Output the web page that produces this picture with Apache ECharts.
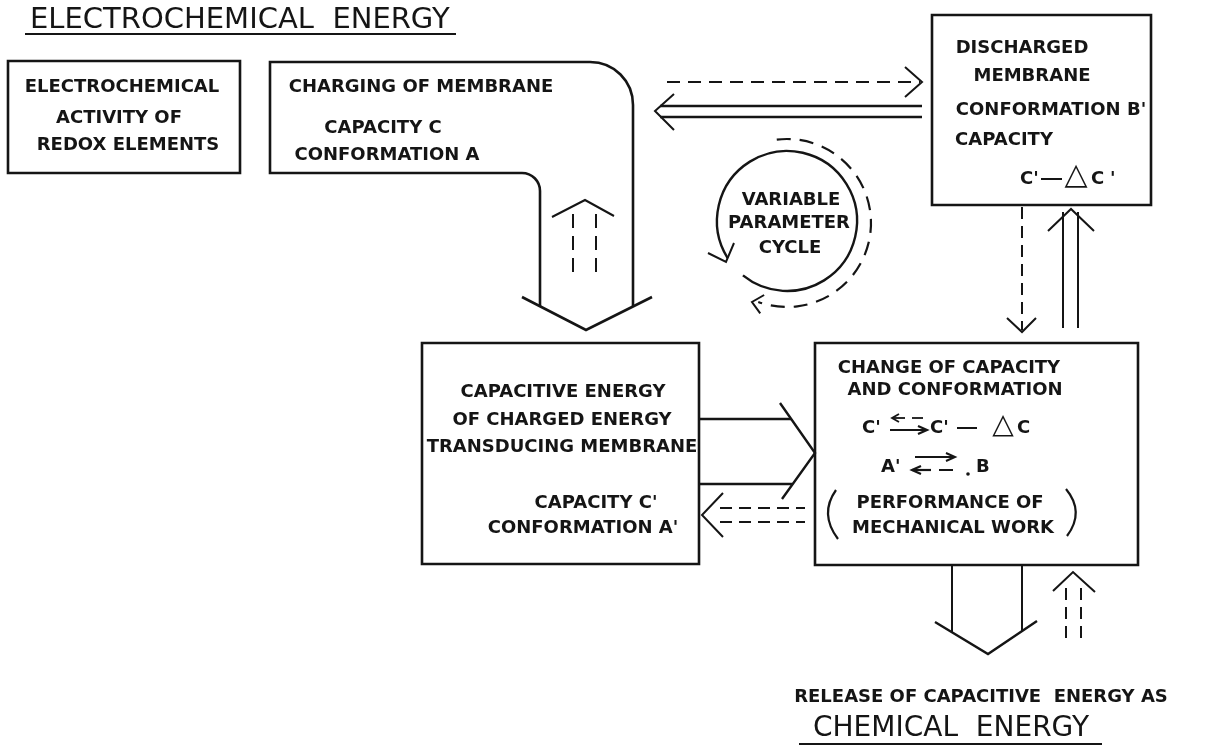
<!DOCTYPE html>
<html>
<head>
<meta charset="utf-8">
<script src="https://cdn.jsdelivr.net/npm/echarts@6/dist/echarts.min.js"></script>
<style>
  html, body { margin: 0; padding: 0; background: #fff; }
  #main { width: 1210px; height: 749px; }
</style>
</head>
<body>
<div id="main"></div>
<script>
// texts of the diagram
const titleTop = 'ELECTROCHEMICAL  ENERGY';
const titleBottom = 'CHEMICAL  ENERGY';
const releaseLine = 'RELEASE OF CAPACITIVE  ENERGY AS';
const redoxLines = ['ELECTROCHEMICAL', 'ACTIVITY OF', 'REDOX ELEMENTS'];
const chargingLines = ['CHARGING OF MEMBRANE', 'CAPACITY C', 'CONFORMATION A'];
const dischargedLines = ['DISCHARGED', 'MEMBRANE', "CONFORMATION B'", 'CAPACITY'];
const cycleLines = ['VARIABLE', 'PARAMETER', 'CYCLE'];
const capacitiveLines = ['CAPACITIVE ENERGY', 'OF CHARGED ENERGY', 'TRANSDUCING MEMBRANE', "CAPACITY C'", "CONFORMATION A'"];
const changeLines = ['CHANGE OF CAPACITY', 'AND CONFORMATION'];
const workLines = ['PERFORMANCE OF', 'MECHANICAL WORK'];

const K = '#151515';
const D = [13, 8];

function seg(x1, y1, x2, y2, w, dash) {
  return { type: 'line', shape: { x1: x1, y1: y1, x2: x2, y2: y2 },
    style: { stroke: K, lineWidth: w || 2, lineDash: dash || null } };
}
function pl(pts, w) {
  return { type: 'polyline', shape: { points: pts }, style: { stroke: K, lineWidth: w || 2, fill: null } };
}
function curve(shape, w) {
  return { type: 'bezierCurve', shape: shape, style: { stroke: K, lineWidth: w || 2, fill: null } };
}
function box(x, y, w, h) {
  return { type: 'rect', shape: { x: x, y: y, width: w, height: h }, style: { stroke: K, lineWidth: 2.6, fill: null } };
}
function txt(s, x, y, o) {
  o = o || {};
  const a = o.align || 'center';
  return { type: 'text', x: x, y: y, style: {
    text: s, fill: K, font: (o.weight || 'bold') + ' ' + (o.size || 18) + 'px "DejaVu Sans"',
    align: a, verticalAlign: 'middle', textAlign: a, textVerticalAlign: 'middle' } };
}
function block(arr, xs, ys) {
  return arr.map(function (s, i) { return txt(s, xs[i], ys[i]); });
}
// arrowhead at a tip pointing along angle (deg)
function head(tx, ty, ang, len, spread) {
  const r = Math.PI / 180, b = (ang + 180) * r, s = (spread || 32) * r;
  return pl([[tx + len * Math.cos(b - s), ty + len * Math.sin(b - s)], [tx, ty],
    [tx + len * Math.cos(b + s), ty + len * Math.sin(b + s)]]);
}

const els = [];

// titles
els.push(txt(titleTop, 30, 20, { weight: 'normal', size: 29, align: 'left' }));
els.push(seg(25, 34, 456, 34, 2));
els.push(txt(releaseLine, 981, 697, { size: 18 }));
els.push(txt(titleBottom, 951, 729, { weight: 'normal', size: 28 }));
els.push(seg(799, 744, 1102, 744, 2));

// box: redox elements
els.push(box(8, 61, 232, 112));
els.push.apply(els, block(redoxLines, [122, 119, 128], [87, 118, 145]));

// L-shaped arrow: charging of membrane
els.push(pl([[540, 307], [540, 191]], 2.6));
els.push(curve({ x1: 540, y1: 191, cpx1: 540, cpy1: 181, cpx2: 532, cpy2: 173, x2: 522, y2: 173 }, 2.6));
els.push(pl([[522, 173], [270, 173], [270, 62], [590, 62]], 2.6));
els.push(curve({ x1: 590, y1: 62, cpx1: 614, cpy1: 62, cpx2: 633, cpy2: 81, x2: 633, y2: 105 }, 2.6));
els.push(pl([[633, 105], [633, 307]], 2.6));
els.push(pl([[522, 297], [586, 330], [652, 297]], 2.6));
els.push.apply(els, block(chargingLines, [421, 383, 387], [87, 128, 155]));
// dashed return arrow inside the shaft
els.push(pl([[552, 217], [585, 200], [614, 216]]));
els.push(seg(573, 214, 573, 274, 2, [14, 8]));
els.push(seg(596, 214, 596, 274, 2, [14, 8]));

// top horizontal arrows
els.push(seg(667, 82, 920, 82, 2, D));
els.push(pl([[905, 67], [922, 82], [905, 97]]));
els.push(seg(660, 106, 922, 106, 2.4));
els.push(seg(660, 117, 922, 117, 2.4));
els.push(pl([[674, 94], [655, 111], [674, 130]]));

// discharged membrane box
els.push(box(932, 15, 219, 190));
els.push.apply(els, block(dischargedLines, [1022, 1032, 1051, 1004], [48, 76, 110, 140]));
els.push(txt("C'", 1020, 179, { align: 'left' }));
els.push(seg(1041, 179, 1062, 179, 2));
els.push(txt('\u25B3', 1076, 176, { weight: 'normal', size: 30 }));
els.push(txt('C', 1091, 179, { align: 'left' }));
els.push(txt("'", 1110, 179, { align: 'left' }));

// vertical arrows under discharged box
els.push(seg(1022, 207, 1022, 330, 2, [12, 7]));
els.push(pl([[1007, 318], [1022, 332], [1036, 318]]));
els.push(seg(1063, 212, 1063, 328, 2));
els.push(seg(1078, 212, 1078, 328, 2));
els.push(pl([[1048, 231], [1071, 209], [1094, 231]]));

// variable parameter cycle
const rad = Math.PI / 180;
els.push({ type: 'arc', shape: { cx: 787, cy: 221, r: 70, startAngle: 148 * rad, endAngle: 489 * rad, clockwise: true },
  style: { stroke: K, lineWidth: 2.4, fill: null } });
els.push(pl([[708, 253], [726, 262], [734, 243]]));
els.push({ type: 'arc', shape: { cx: 787, cy: 223, r: 84, startAngle: -97 * rad, endAngle: 110 * rad, clockwise: true },
  style: { stroke: K, lineWidth: 2.2, fill: null, lineDash: [14, 9] } });
els.push(head(752, 302, 192, 14, 42));
els.push.apply(els, block(cycleLines, [791, 789, 790], [200, 223, 248]));

// capacitive energy box
els.push(box(422, 343, 277, 221));
els.push.apply(els, block(capacitiveLines, [563, 562, 562, 596, 583], [392, 420, 447, 503, 528]));

// arrows between lower boxes
els.push(seg(699, 419, 791, 419, 2.4));
els.push(seg(699, 484, 792, 484, 2.4));
els.push(pl([[780, 403], [815, 453], [782, 499]], 2.4));
els.push(seg(720, 508, 805, 508, 2, [12, 7]));
els.push(seg(720, 522, 805, 522, 2, [12, 7]));
els.push(pl([[723, 493], [702, 515], [723, 537]]));

// change of capacity box
els.push(box(815, 343, 323, 222));
els.push.apply(els, block(changeLines, [949, 955], [368, 390]));
els.push(txt("C'", 862, 428, { align: 'left' }));
els.push(seg(892, 418, 905, 418, 1.8));
els.push(pl([[899, 414], [892, 418], [899, 422]], 1.8));
els.push(seg(912, 418, 923, 418, 1.8));
els.push(seg(890, 430, 927, 430, 2.2));
els.push(pl([[918, 426], [927, 430], [918, 434]], 2.2));
els.push(txt("C'", 930, 428, { align: 'left' }));
els.push(seg(957, 428, 977, 428, 2));
els.push(txt('\u25B3', 1003, 426, { weight: 'normal', size: 28 }));
els.push(txt('C', 1017, 428, { align: 'left' }));

els.push(txt("A'", 881, 467, { align: 'left' }));
els.push(seg(915, 457, 955, 457, 2));
els.push(pl([[946, 453], [955, 457], [946, 461]], 2));
els.push(seg(912, 470, 931, 470, 2.2));
els.push(pl([[921, 466], [912, 470], [921, 474]], 2.2));
els.push(seg(939, 470, 953, 470, 2));
els.push({ type: 'circle', shape: { cx: 968, cy: 474, r: 1.8 }, style: { fill: K } });
els.push(txt('B', 976, 467, { align: 'left' }));

els.push.apply(els, block(workLines, [950, 953], [503, 528]));
els.push(curve({ x1: 836, y1: 490, cpx1: 819, cpy1: 514, x2: 838, y2: 539 }, 2.2));
els.push(curve({ x1: 1066, y1: 489, cpx1: 1085, cpy1: 512, x2: 1067, y2: 536 }, 2.2));

// arrows under change box
els.push(seg(952, 565, 952, 632, 2));
els.push(seg(1022, 565, 1022, 632, 2));
els.push(pl([[935, 622], [988, 654], [1037, 621]], 2.4));
els.push(pl([[1053, 591], [1073, 572], [1095, 592]]));
els.push(seg(1066, 588, 1066, 645, 2, [12, 7]));
els.push(seg(1081, 588, 1081, 645, 2, [12, 7]));

const chart = echarts.init(document.getElementById('main'));
chart.setOption({
  backgroundColor: '#ffffff',
  graphic: { elements: els }
});
</script>
</body>
</html>
